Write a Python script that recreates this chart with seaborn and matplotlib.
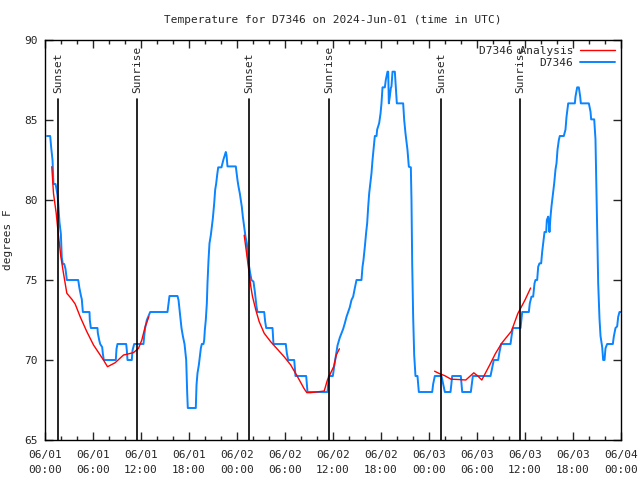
import matplotlib
matplotlib.use("Agg")
import matplotlib.pyplot as plt
import seaborn as sns
import pandas as pd
import numpy as np

# ---------------- data (hours since 2024-06-01 00:00 UTC) ----------------
obs_hours = [0.25, 0.65, 0.77, 0.94, 1.06, 1.31, 1.40, 1.56, 1.65, 1.81, 1.98, 2.10, 2.23, 2.40, 2.56, 2.73,
             4.15, 4.30, 4.50, 4.60, 4.73, 5.56, 5.60, 5.73, 6.56, 6.60, 6.77, 6.90, 7.15, 7.23, 7.35,
             8.85, 8.94, 9.06, 10.15, 10.23, 10.31, 10.85, 10.94, 11.15, 12.31, 12.40, 12.52, 12.73, 12.98, 13.15,
             15.31, 15.44, 15.56, 16.56, 16.69, 16.90, 17.06, 17.23, 17.44, 17.65, 17.77, 17.85,
             18.85, 18.94, 19.06, 19.23, 19.35, 19.48, 19.60, 19.81, 19.90, 19.98, 20.10, 20.23, 20.31, 20.44,
             20.56, 20.73, 20.85, 20.98, 21.15, 21.27, 21.40, 21.52, 21.65, 22.06, 22.19, 22.31, 22.48, 22.60,
             22.69, 22.81, 23.85, 24.06, 24.19, 24.35, 24.48, 24.60, 24.73, 24.90, 25.06, 25.23, 25.35, 25.52,
             25.65, 25.81, 26.06, 26.23, 26.44, 26.56, 27.40, 27.52, 27.65, 28.44, 28.56, 30.10, 30.23, 30.40,
             31.15, 31.31, 32.65, 32.81, 35.31, 35.48, 35.98, 36.15, 36.44, 36.56, 36.85, 37.06, 37.27, 37.48,
             37.69, 37.90, 38.10, 38.31, 38.52, 38.73, 38.94, 39.56, 39.69, 39.81, 39.98, 40.15, 40.27, 40.40,
             40.52, 40.69, 40.81, 40.94, 41.10, 41.23, 41.44, 41.52, 41.77, 41.94, 42.06, 42.19, 42.48, 42.60,
             42.81, 42.90, 42.98, 43.10, 43.23, 43.31, 43.44, 43.73, 43.85, 43.98, 44.77, 44.90, 45.06, 45.31,
             45.48, 45.73, 45.81, 45.90, 46.02, 46.15, 46.31, 46.56, 46.73, 48.40, 48.52, 48.73, 49.56, 49.77,
             49.98, 50.69, 50.90, 51.98, 52.15, 53.23, 53.48, 55.69, 55.90, 56.10, 56.65, 56.81, 57.02, 58.19,
             58.31, 58.48, 59.44, 59.65, 60.48, 60.60, 60.81, 61.02, 61.19, 61.31, 61.52, 61.65, 61.81, 62.02,
             62.15, 62.27, 62.44, 62.65, 62.73, 62.90, 62.98, 63.06, 63.19, 63.31, 63.48, 63.65, 63.81, 63.94,
             64.06, 64.23, 64.35, 64.85, 65.06, 65.19, 65.40, 66.23, 66.31, 66.52, 66.73, 66.90, 66.98, 67.98,
             68.19, 68.27, 68.65, 68.81, 68.90, 69.02, 69.15, 69.31, 69.44, 69.65, 69.77, 69.94, 70.06, 70.27,
             70.98, 71.10, 71.31, 71.52, 71.65, 71.81, 71.95]
obs_temps = [84.0, 84.0, 83.3, 82.5, 81.0, 81.0, 80.8, 80.3, 79.8, 78.6, 77.9, 76.4, 76.0, 76.0, 75.7, 75.0,
             75.0, 74.5, 74.0, 73.8, 73.0, 73.0, 72.5, 72.0, 72.0, 71.7, 71.25, 71.0, 70.8, 70.4, 70.0,
             70.0, 70.7, 71.0, 71.0, 70.6, 70.0, 70.0, 70.6, 71.0, 71.0, 71.5, 72.0, 72.5, 72.8, 73.0,
             73.0, 73.5, 74.0, 74.0, 73.75, 72.75, 72.0, 71.5, 71.0, 70.0, 68.0, 67.0,
             67.0, 68.44, 69.17, 69.69, 70.21, 70.73, 71.0, 71.0, 71.25, 71.88, 72.5, 73.54, 74.79, 76.25,
             77.29, 77.81, 78.33, 78.85, 79.79, 80.63, 81.04, 81.56, 82.04, 82.04, 82.3, 82.54, 82.8, 83.0,
             82.8, 82.1, 82.1, 81.25, 80.83, 80.42, 80.0, 79.58, 78.96, 78.33, 77.71, 77.29, 76.46, 75.83,
             75.42, 75.0, 74.9, 74.27, 73.33, 73.0, 73.0, 72.4, 72.0, 72.0, 71.0, 71.0, 70.42, 70.0,
             70.0, 69.0, 69.0, 68.0, 68.0, 69.0, 69.0, 69.6, 70.5, 70.9, 71.4, 71.67, 71.94, 72.3,
             72.7, 73.0, 73.3, 73.75, 73.96, 74.5, 75.0, 75.0, 75.83, 76.25, 77.08, 78.0, 78.54, 79.58,
             80.4, 81.15, 81.67, 82.5, 83.33, 84.0, 84.0, 84.4, 84.8, 85.4, 86.04, 87.04, 87.04, 87.5,
             88.02, 88.02, 86.04, 86.46, 87.0, 87.1, 88.02, 88.02, 87.1, 86.04, 86.04, 85.0, 84.17, 83.13,
             82.08, 82.04, 80.0, 76.04, 72.7, 70.3, 69.0, 69.0, 68.0, 68.0, 68.5, 69.0, 69.0, 68.5,
             68.0, 68.0, 69.0, 69.0, 68.0, 68.0, 69.0, 69.0, 69.5, 70.0, 70.0, 70.5, 71.0, 71.0,
             71.46, 72.0, 72.0, 73.0, 73.0, 73.54, 73.96, 73.96, 74.79, 75.0, 75.0, 75.83, 76.04, 76.04,
             76.77, 77.3, 78.0, 78.0, 78.75, 78.96, 78.54, 78.0, 78.96, 79.6, 80.3, 81.04, 81.9, 82.3,
             83.13, 83.75, 84.0, 84.0, 84.4, 85.2, 86.04, 86.04, 86.46, 87.04, 87.04, 86.46, 86.04, 86.04,
             85.52, 85.04, 85.04, 83.8, 81.25, 78.23, 74.79, 72.6, 71.5, 70.8, 70.0, 70.0, 70.73, 71.0,
             71.0, 71.46, 72.0, 72.1, 72.7, 73.0, 73.0]

ana1_hours = [0.85, 1.06, 1.40, 1.65, 1.98, 2.31, 2.73, 3.35, 3.77, 4.40, 5.23, 6.06, 6.90, 7.31, 7.81,
              8.77, 9.81, 11.06, 11.69, 12.10, 12.52, 12.98]
ana1_temps = [82.08, 80.42, 79.17, 77.92, 76.46, 75.42, 74.17, 73.8, 73.5, 72.7, 71.77, 70.94, 70.31, 70.0, 69.58,
              69.83, 70.31, 70.46, 70.73, 71.25, 72.08, 72.7]
ana2_hours = [24.9, 25.2, 25.52, 25.73, 25.94, 26.35, 26.77, 27.4, 28.2, 29.06, 29.9, 30.7, 31.56, 32.4, 32.73,
              33.2, 34.9, 35.3, 36.1, 36.4, 36.8]
ana2_temps = [77.8, 76.67, 75.42, 74.58, 73.96, 73.13, 72.4, 71.67, 71.15, 70.67, 70.2, 69.7, 68.96, 68.2, 67.96,
              67.96, 68.06, 68.75, 69.6, 70.3, 70.7]
ana3_hours = [48.7, 49.3, 49.97, 50.75, 51.7, 52.6, 53.6, 54.1, 54.6, 55.6, 56.3, 57.1, 58.3, 59.1, 60.0, 60.7]
ana3_temps = [69.3, 69.15, 69.02, 68.8, 68.78, 68.75, 69.2, 69.0, 68.75, 69.7, 70.4, 71.06, 71.8, 72.9, 73.75, 74.5]

sun_events = ["Sunset", "Sunrise", "Sunset", "Sunrise", "Sunset", "Sunrise"]
sun_hours = [1.6, 11.47, 25.48, 35.48, 49.5, 59.35]

xtick_hours = [0, 6, 12, 18, 24, 30, 36, 42, 48, 54, 60, 66, 72]
xtick_labels = ["06/01\n00:00", "06/01\n06:00", "06/01\n12:00", "06/01\n18:00",
                "06/02\n00:00", "06/02\n06:00", "06/02\n12:00", "06/02\n18:00",
                "06/03\n00:00", "06/03\n06:00", "06/03\n12:00", "06/03\n18:00", "06/04\n00:00"]
ytick_values = [65, 70, 75, 80, 85, 90]

title = "Temperature for D7346 on 2024-Jun-01 (time in UTC)"
ylabel = "degrees F"

# ---------------- plotting ----------------
sns.set_style("white")
plt.rcParams["font.family"] = ["DejaVu Sans Mono", "DejaVu Sans"]
FS = 8

fig = plt.figure(figsize=(6.4, 4.8), dpi=100)
ax = fig.add_axes([45 / 640, 40 / 480, 576 / 640, 400 / 480])

obs = pd.DataFrame({"hour": obs_hours, "temp": obs_temps})
ana = pd.concat([
    pd.DataFrame({"hour": ana1_hours, "temp": ana1_temps, "seg": 1}),
    pd.DataFrame({"hour": ana2_hours, "temp": ana2_temps, "seg": 2}),
    pd.DataFrame({"hour": ana3_hours, "temp": ana3_temps, "seg": 3}),
], ignore_index=True)

sns.lineplot(data=obs, x="hour", y="temp", ax=ax, color="#0a84ff", lw=1.4,
             estimator=None, sort=False, zorder=2)
sns.lineplot(data=ana, x="hour", y="temp", units="seg", ax=ax, color="#ff0000", lw=1.0,
             estimator=None, sort=False, zorder=3)

for name, h in zip(sun_events, sun_hours):
    ax.axvline(h, ymin=0, ymax=0.853, color="black", lw=1.2, zorder=4)
    ax.text(h, 0.868, name, transform=ax.get_xaxis_transform(), rotation=90,
            ha="center", va="bottom", fontsize=FS, zorder=5)

# legend (gnuplot style: text then sample)
from matplotlib.lines import Line2D
handles = [Line2D([], [], color="#ff0000", lw=1.0), Line2D([], [], color="#0a84ff", lw=1.4)]
ax.legend(handles, ["D7346 Analysis", "D7346"], loc="upper right", markerfirst=False,
          frameon=False, fontsize=FS, handlelength=3.2, handletextpad=0.6,
          labelspacing=0.25, borderaxespad=0.3, borderpad=0.2)

ax.set_xlim(0, 72)
ax.set_ylim(65, 90)
ax.set_xticks(xtick_hours)
ax.set_xticklabels(xtick_labels, fontsize=FS, linespacing=1.6)
ax.set_xticks(np.arange(0, 73, 2), minor=True)
ax.set_yticks(ytick_values)
ax.set_yticklabels([str(v) for v in ytick_values], fontsize=FS)
ax.tick_params(axis="both", which="major", direction="in", length=6, width=1,
               top=True, right=True, bottom=True, left=True, pad=5)
ax.tick_params(axis="x", which="minor", direction="in", length=3, width=1, top=True, bottom=True)
ax.tick_params(axis="x", which="major", pad=7)
for s in ax.spines.values():
    s.set_color("black")
    s.set_linewidth(1.0)
ax.set_xlabel("")
ax.set_ylabel(ylabel, fontsize=FS, labelpad=8)
ax.set_title(title, fontsize=FS, pad=12)
ax.grid(False)

fig.savefig("out.png", dpi=100)
